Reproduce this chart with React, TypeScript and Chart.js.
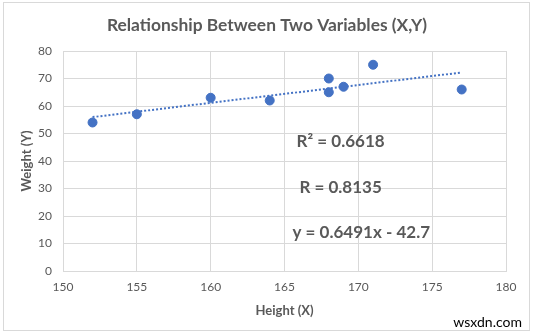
import React, { useEffect, useRef } from "react";
import { Chart, registerables } from "chart.js";

Chart.register(...registerables);

const heights = [152, 155, 160, 164, 168, 168, 169, 171, 177];
const weights = [54, 57, 63, 62, 70, 65, 67, 75, 66];
const trendX = [152, 177];
const slope = 0.6491;
const intercept = -42.7;
const titleText = "Relationship Between Two Variables (X,Y)";
const xTitle = "Height (X)";
const yTitle = "Weight (Y)";
const notes = ["R² = 0.6618", "R = 0.8135", "y = 0.6491x - 42.7"];
const noteAt = [
  [168.8, 47.0],
  [168.8, 30.5],
  [170.2, 14.1],
];
const watermark = "wsxdn.com";

const FONT = "Lato, 'Open Sans', sans-serif";
const GRAY = "#595959";
const BLUE = "#4472C4";

const overlay = {
  id: "overlay",
  beforeDraw(chart: any) {
    const ctx = chart.ctx;
    ctx.save();
    ctx.fillStyle = "#ffffff";
    ctx.fillRect(0, 0, chart.width, chart.height);
    ctx.strokeStyle = "#d9d9d9";
    ctx.lineWidth = 1;
    ctx.strokeRect(3.5, 2.5, 526, 328);
    ctx.restore();
  },
  afterDraw(chart: any) {
    const ctx = chart.ctx;
    const xs = chart.scales.x;
    const ys = chart.scales.y;
    ctx.save();
    ctx.fillStyle = GRAY;
    ctx.textAlign = "center";
    ctx.textBaseline = "middle";
    ctx.font = `bold 17.4px ${FONT}`;
    ctx.fillText(titleText, 267, 25.5);
    ctx.font = `bold 13px ${FONT}`;
    ctx.fillText(xTitle, (xs.left + xs.right) / 2, 311);
    ctx.save();
    ctx.translate(27, (ys.top + ys.bottom) / 2);
    ctx.rotate(-Math.PI / 2);
    ctx.fillText(yTitle, 0, 0);
    ctx.restore();
    ctx.font = `bold 17px ${FONT}`;
    notes.forEach((t, i) => {
      ctx.fillText(t, xs.getPixelForValue(noteAt[i][0]), ys.getPixelForValue(noteAt[i][1]));
    });
    ctx.font = `14px ${FONT}`;
    const w = ctx.measureText(watermark).width;
    ctx.fillStyle = "#ffffff";
    ctx.fillRect(522 - w - 2, 314, w + 4, 16);
    ctx.fillStyle = "#000000";
    ctx.textAlign = "right";
    ctx.fillText(watermark, 522, 322);
    ctx.restore();
  },
};

export default function App() {
  const ref = useRef<HTMLCanvasElement>(null);
  useEffect(() => {
    if (!ref.current) return;
    const chart = new Chart(ref.current, {
      type: "scatter",
      data: {
        datasets: [
          {
            label: "Data",
            data: heights.map((h, i) => ({ x: h, y: weights[i] })),
            backgroundColor: BLUE,
            borderColor: BLUE,
            pointRadius: 4.5,
            order: 1,
          },
          {
            label: "Trend",
            type: "line",
            data: trendX.map((x) => ({ x, y: slope * x + intercept })),
            borderColor: BLUE,
            borderWidth: 2,
            borderDash: [2, 2],
            pointRadius: 0,
            fill: false,
            order: 2,
          } as any,
        ],
      },
      options: {
        responsive: false,
        animation: false,
        events: [],
        layout: { padding: { top: 51, right: 28, left: 0, bottom: 0 } },
        plugins: { legend: { display: false }, tooltip: { enabled: false }, title: { display: false } },
        scales: {
          x: {
            type: "linear",
            min: 150,
            max: 180,
            ticks: { stepSize: 5, color: GRAY, font: { family: FONT, size: 12 }, padding: 9 },
            grid: { color: "#d9d9d9", drawTicks: false },
            border: { color: "#d9d9d9" },
            afterFit: (s: any) => {
              s.height = 64;
            },
          },
          y: {
            min: 0,
            max: 80,
            ticks: { stepSize: 10, color: GRAY, font: { family: FONT, size: 12 }, padding: 11 },
            grid: { color: "#d9d9d9", drawTicks: false },
            border: { color: "#d9d9d9" },
            afterFit: (s: any) => {
              s.width = 63;
            },
          },
        },
      },
      plugins: [overlay],
    });
    return () => chart.destroy();
  }, []);
  return (
    <div style={{ position: "absolute", left: 0, top: 0 }}>
      <canvas ref={ref} width={534} height={335} style={{ display: "block" }} />
    </div>
  );
}
